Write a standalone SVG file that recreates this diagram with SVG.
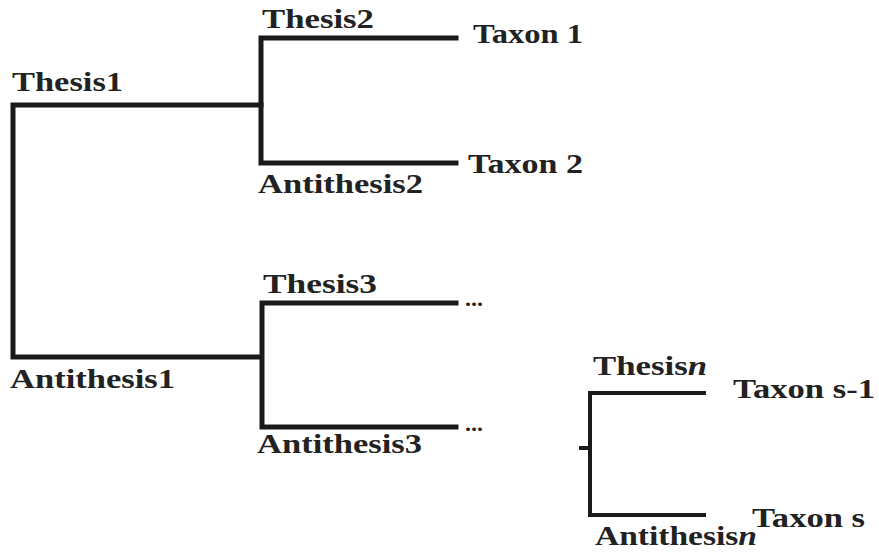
<svg xmlns="http://www.w3.org/2000/svg" width="879" height="553" viewBox="0 0 879 553">
<style>
.l{fill:none;stroke:#1a1a1a;stroke-width:5;stroke-linejoin:miter;stroke-linecap:square}
.s{stroke-width:4}
.t{font-family:"Liberation Serif","Times New Roman",serif;font-weight:bold;font-size:28px;fill:#222}
.d{font-family:"Liberation Serif",serif;font-weight:bold;font-size:20px;fill:#222}
</style>
<rect width="879" height="553" fill="#fff"/>
<g id="connectors">
<polyline class="l" points="260,105 13,105 13,357 260,357"/>
<polyline class="l" points="456,38 261,38 261,163 456,163"/>
<line class="l" x1="261" y1="105" x2="261" y2="105"/>
<polyline class="l" points="456,303 262,303 262,427 456,427"/>
<polyline class="l s" points="704,393 590,393 590,515 704,515"/>
<line class="l s" x1="581" y1="448" x2="590" y2="448"/>
</g>
<g id="thesis1"><text class="t" x="12" y="91" textLength="111" lengthAdjust="spacingAndGlyphs">Thesis1</text></g>
<g id="antithesis1"><text class="t" x="10" y="388" textLength="165" lengthAdjust="spacingAndGlyphs">Antithesis1</text></g>
<g id="thesis2"><text class="t" x="262" y="28" textLength="112" lengthAdjust="spacingAndGlyphs">Thesis2</text></g>
<g id="antithesis2"><text class="t" x="258" y="193" textLength="165" lengthAdjust="spacingAndGlyphs">Antithesis2</text></g>
<g id="taxon1"><text class="t" x="473" y="43" textLength="110" lengthAdjust="spacingAndGlyphs">Taxon 1</text></g>
<g id="taxon2"><text class="t" x="468" y="173" textLength="115" lengthAdjust="spacingAndGlyphs">Taxon 2</text></g>
<g id="thesis3"><text class="t" x="263" y="293" textLength="114" lengthAdjust="spacingAndGlyphs">Thesis3</text></g>
<g id="antithesis3"><text class="t" x="257" y="453" textLength="165" lengthAdjust="spacingAndGlyphs">Antithesis3</text></g>
<g id="dots3a"><text class="d" x="465" y="306" textLength="18" lengthAdjust="spacingAndGlyphs">...</text></g>
<g id="dots3b"><text class="d" x="465" y="431" textLength="18" lengthAdjust="spacingAndGlyphs">...</text></g>
<g id="thesisn"><text class="t" x="593" y="375" textLength="114" lengthAdjust="spacingAndGlyphs">Thesis<tspan font-style="italic">n</tspan></text></g>
<g id="antithesisn"><text class="t" x="595" y="545" textLength="162" lengthAdjust="spacingAndGlyphs">Antithesis<tspan font-style="italic">n</tspan></text></g>
<g id="taxons1"><text class="t" x="733" y="398" textLength="142" lengthAdjust="spacingAndGlyphs">Taxon s-1</text></g>
<g id="taxons"><text class="t" x="752" y="527" textLength="113" lengthAdjust="spacingAndGlyphs">Taxon s</text></g>
</svg>
